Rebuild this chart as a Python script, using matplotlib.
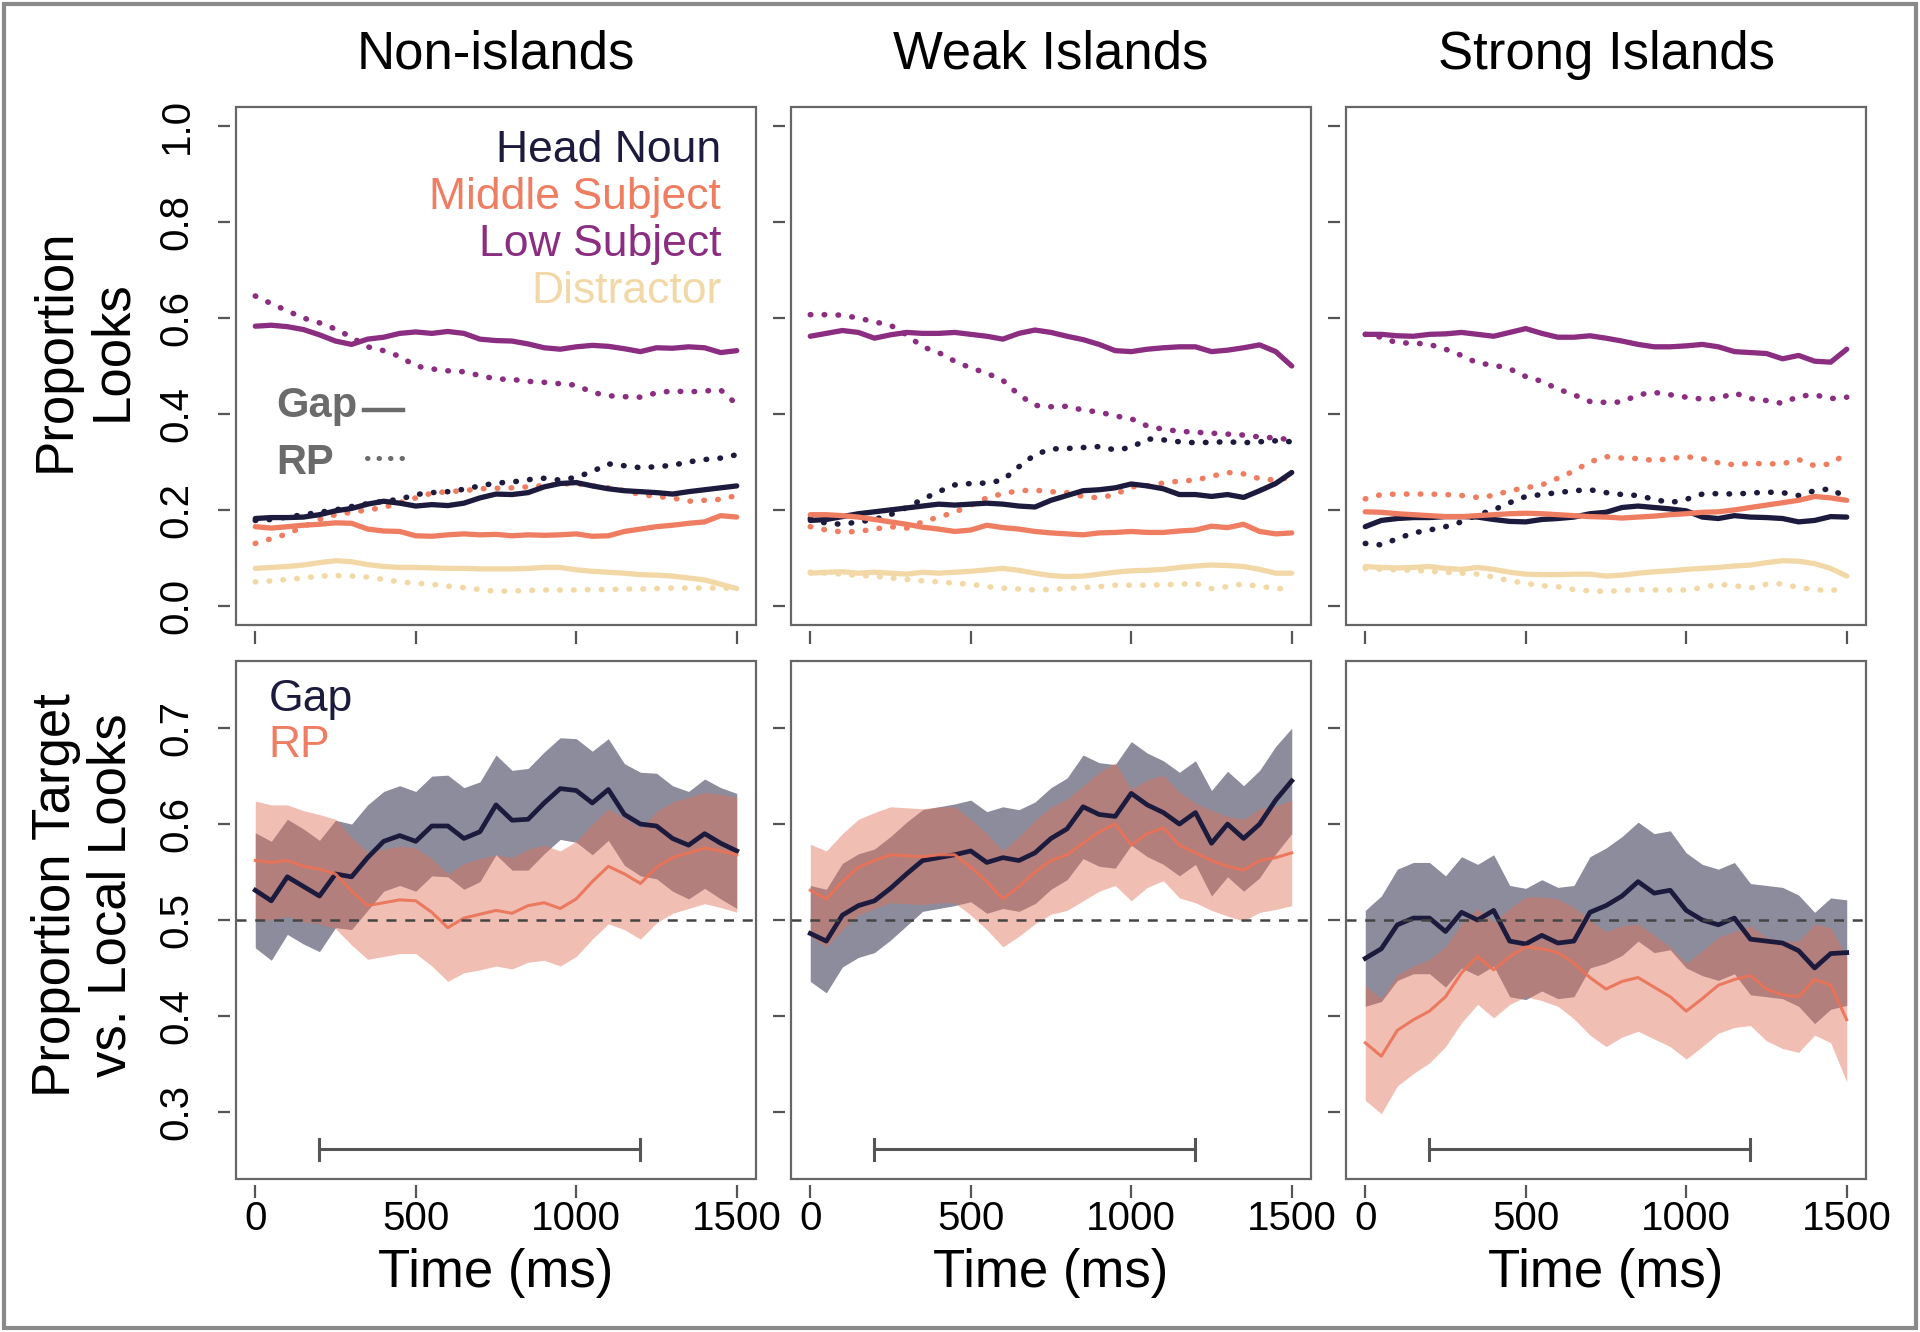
import matplotlib.pyplot as plt
import numpy as np
from matplotlib.patches import Rectangle

plt.rcParams['font.family'] = ['Liberation Sans', 'DejaVu Sans']

time_ms = np.arange(0, 1501, 50)

# top row: proportion of looks (Gap = solid, RP = dotted)
ni_head_gap = [0.182, 0.184, 0.184, 0.185, 0.190, 0.198, 0.203, 0.212, 0.218, 0.214, 0.208, 0.211, 0.209, 0.214, 0.225, 0.233,
               0.232, 0.236, 0.248, 0.255, 0.257, 0.250, 0.244, 0.240, 0.238, 0.236, 0.233, 0.238, 0.242, 0.246, 0.250]
ni_head_rp = [0.178, 0.180, 0.185, 0.190, 0.195, 0.200, 0.207, 0.213, 0.218, 0.222, 0.232, 0.236, 0.238, 0.243, 0.250, 0.256,
              0.258, 0.263, 0.266, 0.262, 0.268, 0.280, 0.296, 0.292, 0.288, 0.290, 0.293, 0.300, 0.305, 0.308, 0.315]
ni_mid_gap = [0.165, 0.162, 0.165, 0.168, 0.170, 0.173, 0.172, 0.160, 0.156, 0.155, 0.146, 0.145, 0.148, 0.150, 0.148, 0.149,
              0.146, 0.148, 0.147, 0.148, 0.150, 0.145, 0.146, 0.155, 0.160, 0.165, 0.168, 0.172, 0.175, 0.188, 0.185]
ni_mid_rp = [0.130, 0.140, 0.150, 0.165, 0.180, 0.190, 0.195, 0.200, 0.205, 0.215, 0.225, 0.235, 0.238, 0.240, 0.244, 0.245,
             0.246, 0.248, 0.251, 0.254, 0.255, 0.250, 0.246, 0.240, 0.232, 0.228, 0.225, 0.218, 0.220, 0.222, 0.230]
ni_low_gap = [0.583, 0.585, 0.582, 0.576, 0.565, 0.552, 0.545, 0.556, 0.560, 0.568, 0.571, 0.568, 0.572, 0.568, 0.556, 0.553,
              0.552, 0.546, 0.538, 0.535, 0.540, 0.543, 0.541, 0.536, 0.530, 0.538, 0.537, 0.540, 0.538, 0.528, 0.532]
ni_low_rp = [0.646, 0.630, 0.615, 0.600, 0.590, 0.577, 0.560, 0.540, 0.532, 0.520, 0.500, 0.494, 0.490, 0.488, 0.480, 0.473,
             0.472, 0.468, 0.466, 0.463, 0.460, 0.445, 0.438, 0.436, 0.435, 0.444, 0.448, 0.446, 0.448, 0.450, 0.420]
ni_dis_gap = [0.078, 0.080, 0.082, 0.085, 0.090, 0.094, 0.092, 0.086, 0.082, 0.080, 0.080, 0.079, 0.078, 0.078, 0.077, 0.077,
              0.077, 0.078, 0.080, 0.080, 0.075, 0.072, 0.070, 0.068, 0.065, 0.064, 0.062, 0.058, 0.054, 0.045, 0.036]
ni_dis_rp = [0.050, 0.052, 0.055, 0.058, 0.062, 0.063, 0.062, 0.060, 0.055, 0.050, 0.047, 0.045, 0.041, 0.038, 0.034, 0.030,
             0.031, 0.032, 0.033, 0.033, 0.033, 0.034, 0.034, 0.035, 0.035, 0.036, 0.037, 0.037, 0.037, 0.037, 0.037]

wi_head_gap = [0.178, 0.180, 0.186, 0.192, 0.196, 0.200, 0.204, 0.208, 0.212, 0.210, 0.212, 0.214, 0.212, 0.208, 0.206, 0.220,
               0.230, 0.240, 0.242, 0.246, 0.254, 0.250, 0.244, 0.232, 0.232, 0.228, 0.232, 0.226, 0.240, 0.255, 0.278]
wi_head_rp = [0.182, 0.172, 0.170, 0.175, 0.180, 0.190, 0.205, 0.222, 0.238, 0.252, 0.255, 0.256, 0.262, 0.290, 0.315, 0.327,
              0.328, 0.330, 0.332, 0.325, 0.330, 0.348, 0.346, 0.342, 0.340, 0.341, 0.342, 0.340, 0.342, 0.344, 0.342]
wi_mid_gap = [0.190, 0.190, 0.188, 0.185, 0.180, 0.175, 0.170, 0.164, 0.160, 0.155, 0.158, 0.168, 0.163, 0.160, 0.155, 0.152,
              0.150, 0.148, 0.152, 0.153, 0.155, 0.153, 0.153, 0.156, 0.158, 0.166, 0.163, 0.170, 0.155, 0.150, 0.152]
wi_mid_rp = [0.165, 0.158, 0.154, 0.155, 0.160, 0.165, 0.162, 0.175, 0.185, 0.195, 0.210, 0.225, 0.234, 0.240, 0.241, 0.238,
             0.236, 0.228, 0.225, 0.232, 0.248, 0.250, 0.256, 0.260, 0.262, 0.270, 0.278, 0.275, 0.265, 0.262, 0.268]
wi_low_gap = [0.562, 0.568, 0.574, 0.570, 0.558, 0.565, 0.570, 0.568, 0.568, 0.570, 0.566, 0.562, 0.556, 0.568, 0.575, 0.570,
              0.562, 0.555, 0.545, 0.532, 0.530, 0.535, 0.538, 0.540, 0.540, 0.530, 0.533, 0.538, 0.544, 0.530, 0.500]
wi_low_rp = [0.607, 0.607, 0.606, 0.600, 0.592, 0.585, 0.565, 0.540, 0.528, 0.510, 0.496, 0.485, 0.470, 0.440, 0.418, 0.415,
             0.416, 0.408, 0.404, 0.396, 0.390, 0.375, 0.368, 0.364, 0.362, 0.360, 0.358, 0.356, 0.352, 0.350, 0.346]
wi_dis_gap = [0.068, 0.070, 0.071, 0.068, 0.070, 0.068, 0.066, 0.070, 0.068, 0.070, 0.072, 0.075, 0.078, 0.074, 0.068, 0.063,
              0.061, 0.062, 0.066, 0.070, 0.073, 0.074, 0.076, 0.080, 0.083, 0.085, 0.084, 0.082, 0.076, 0.068, 0.068]
wi_dis_rp = [0.070, 0.068, 0.066, 0.063, 0.062, 0.058, 0.055, 0.052, 0.050, 0.047, 0.045, 0.040, 0.037, 0.035, 0.033, 0.034,
             0.036, 0.038, 0.040, 0.043, 0.043, 0.043, 0.044, 0.045, 0.047, 0.036, 0.040, 0.046, 0.040, 0.037, 0.033]

si_head_gap = [0.165, 0.178, 0.182, 0.184, 0.184, 0.186, 0.186, 0.185, 0.180, 0.176, 0.175, 0.180, 0.182, 0.185, 0.192, 0.195,
               0.205, 0.208, 0.205, 0.202, 0.198, 0.185, 0.182, 0.188, 0.185, 0.184, 0.182, 0.175, 0.178, 0.186, 0.185]
si_head_rp = [0.130, 0.127, 0.140, 0.152, 0.158, 0.165, 0.175, 0.190, 0.200, 0.215, 0.228, 0.232, 0.236, 0.240, 0.242, 0.236,
              0.232, 0.230, 0.222, 0.215, 0.222, 0.233, 0.234, 0.233, 0.235, 0.237, 0.236, 0.230, 0.240, 0.244, 0.225]
si_mid_gap = [0.196, 0.195, 0.192, 0.190, 0.188, 0.186, 0.186, 0.188, 0.190, 0.192, 0.193, 0.192, 0.190, 0.188, 0.186, 0.185,
              0.183, 0.185, 0.187, 0.190, 0.192, 0.195, 0.196, 0.200, 0.205, 0.210, 0.215, 0.220, 0.228, 0.225, 0.220]
si_mid_rp = [0.223, 0.232, 0.233, 0.233, 0.233, 0.232, 0.230, 0.226, 0.230, 0.240, 0.246, 0.252, 0.266, 0.281, 0.300, 0.311,
             0.308, 0.307, 0.303, 0.307, 0.311, 0.307, 0.298, 0.294, 0.297, 0.296, 0.296, 0.305, 0.292, 0.296, 0.318]
si_low_gap = [0.566, 0.566, 0.563, 0.562, 0.566, 0.567, 0.570, 0.566, 0.562, 0.570, 0.578, 0.568, 0.560, 0.560, 0.563, 0.558,
              0.552, 0.545, 0.540, 0.540, 0.542, 0.545, 0.540, 0.530, 0.528, 0.526, 0.515, 0.522, 0.510, 0.508, 0.535]
si_low_rp = [0.566, 0.560, 0.548, 0.548, 0.545, 0.535, 0.522, 0.506, 0.502, 0.494, 0.478, 0.468, 0.452, 0.440, 0.426, 0.424,
             0.425, 0.440, 0.445, 0.440, 0.435, 0.431, 0.432, 0.444, 0.432, 0.428, 0.422, 0.437, 0.440, 0.432, 0.435]
si_dis_gap = [0.082, 0.080, 0.079, 0.080, 0.082, 0.078, 0.076, 0.080, 0.076, 0.070, 0.066, 0.065, 0.065, 0.066, 0.066, 0.062,
              0.064, 0.068, 0.071, 0.073, 0.076, 0.078, 0.080, 0.083, 0.085, 0.090, 0.094, 0.093, 0.088, 0.078, 0.062]
si_dis_rp = [0.078, 0.076, 0.075, 0.074, 0.072, 0.070, 0.068, 0.066, 0.060, 0.052, 0.047, 0.042, 0.040, 0.034, 0.031, 0.030,
             0.032, 0.034, 0.033, 0.033, 0.033, 0.038, 0.045, 0.042, 0.037, 0.045, 0.046, 0.038, 0.034, 0.031, 0.040]

# bottom row: proportion target vs. local looks, mean and ribbon half-width
ni_gap_mean = [0.531, 0.520, 0.545, 0.535, 0.525, 0.548, 0.545, 0.565, 0.582, 0.588, 0.582, 0.598, 0.598, 0.585, 0.592, 0.620,
               0.604, 0.605, 0.622, 0.637, 0.635, 0.622, 0.636, 0.610, 0.600, 0.598, 0.585, 0.578, 0.590, 0.580, 0.572]
ni_gap_hw = [0.060, 0.062, 0.060, 0.060, 0.058, 0.056, 0.055, 0.055, 0.052, 0.052, 0.052, 0.052, 0.053, 0.053, 0.052, 0.052,
             0.052, 0.053, 0.053, 0.053, 0.054, 0.054, 0.053, 0.053, 0.054, 0.055, 0.055, 0.056, 0.057, 0.058, 0.060]
ni_rp_mean = [0.562, 0.560, 0.562, 0.556, 0.553, 0.548, 0.530, 0.515, 0.518, 0.521, 0.520, 0.508, 0.492, 0.502, 0.506, 0.510,
              0.507, 0.515, 0.518, 0.512, 0.522, 0.540, 0.556, 0.548, 0.538, 0.555, 0.565, 0.570, 0.575, 0.572, 0.568]
ni_rp_hw = [0.062, 0.060, 0.058, 0.058, 0.057, 0.057, 0.056, 0.056, 0.056, 0.056, 0.055, 0.056, 0.056, 0.057, 0.058, 0.058,
            0.058, 0.059, 0.060, 0.060, 0.060, 0.060, 0.060, 0.058, 0.058, 0.058, 0.058, 0.058, 0.058, 0.059, 0.060]

wi_gap_mean = [0.486, 0.478, 0.505, 0.515, 0.520, 0.533, 0.548, 0.562, 0.565, 0.568, 0.572, 0.560, 0.565, 0.562, 0.570, 0.585,
               0.595, 0.618, 0.610, 0.608, 0.632, 0.620, 0.612, 0.600, 0.612, 0.580, 0.600, 0.585, 0.600, 0.625, 0.645]
wi_gap_hw = [0.050, 0.054, 0.054, 0.054, 0.054, 0.054, 0.054, 0.053, 0.053, 0.053, 0.053, 0.053, 0.053, 0.053, 0.053, 0.053,
             0.053, 0.054, 0.054, 0.054, 0.054, 0.054, 0.054, 0.054, 0.054, 0.055, 0.055, 0.055, 0.056, 0.056, 0.055]
wi_rp_mean = [0.531, 0.522, 0.540, 0.555, 0.562, 0.568, 0.567, 0.566, 0.568, 0.568, 0.555, 0.540, 0.522, 0.535, 0.550, 0.562,
              0.568, 0.580, 0.592, 0.600, 0.578, 0.590, 0.596, 0.578, 0.570, 0.562, 0.556, 0.552, 0.562, 0.565, 0.570]
wi_rp_hw = [0.048, 0.050, 0.050, 0.050, 0.050, 0.050, 0.050, 0.050, 0.050, 0.050, 0.050, 0.050, 0.050, 0.052, 0.054, 0.056,
            0.058, 0.060, 0.062, 0.064, 0.058, 0.056, 0.055, 0.055, 0.052, 0.052, 0.052, 0.053, 0.054, 0.054, 0.055]

si_gap_mean = [0.460, 0.470, 0.495, 0.502, 0.502, 0.488, 0.508, 0.500, 0.510, 0.478, 0.475, 0.484, 0.476, 0.478, 0.508, 0.515,
               0.525, 0.540, 0.528, 0.531, 0.510, 0.500, 0.495, 0.502, 0.480, 0.478, 0.476, 0.468, 0.450, 0.465, 0.466]
si_gap_hw = [0.050, 0.055, 0.058, 0.058, 0.058, 0.058, 0.058, 0.058, 0.058, 0.058, 0.058, 0.058, 0.058, 0.058, 0.058, 0.060,
             0.062, 0.062, 0.062, 0.062, 0.060, 0.058, 0.058, 0.058, 0.058, 0.058, 0.058, 0.058, 0.058, 0.058, 0.055]
si_rp_mean = [0.372, 0.358, 0.385, 0.396, 0.405, 0.420, 0.445, 0.462, 0.448, 0.462, 0.472, 0.470, 0.466, 0.455, 0.440, 0.428,
              0.436, 0.440, 0.430, 0.420, 0.405, 0.418, 0.432, 0.438, 0.442, 0.428, 0.422, 0.420, 0.438, 0.432, 0.396]
si_rp_hw = [0.060, 0.060, 0.058, 0.056, 0.054, 0.052, 0.052, 0.050, 0.050, 0.050, 0.052, 0.054, 0.056, 0.058, 0.060, 0.060,
            0.058, 0.056, 0.054, 0.052, 0.050, 0.050, 0.050, 0.050, 0.052, 0.054, 0.056, 0.058, 0.058, 0.060, 0.065]

conditions = ['Non-islands', 'Weak Islands', 'Strong Islands']
aoi_names = ['Head Noun', 'Middle Subject', 'Low Subject', 'Distractor']
aoi_colors = ['#1c1a3d', '#ee7d62', '#8b2d80', '#f2d8a6']
navy = '#1c1a3d'
salmon = '#e07058'
window = [200, 1200]

top_data = [
    [(ni_head_gap, ni_head_rp), (ni_mid_gap, ni_mid_rp), (ni_low_gap, ni_low_rp), (ni_dis_gap, ni_dis_rp)],
    [(wi_head_gap, wi_head_rp), (wi_mid_gap, wi_mid_rp), (wi_low_gap, wi_low_rp), (wi_dis_gap, wi_dis_rp)],
    [(si_head_gap, si_head_rp), (si_mid_gap, si_mid_rp), (si_low_gap, si_low_rp), (si_dis_gap, si_dis_rp)],
]
bottom_data = [
    (ni_gap_mean, ni_gap_hw, ni_rp_mean, ni_rp_hw),
    (wi_gap_mean, wi_gap_hw, wi_rp_mean, wi_rp_hw),
    (si_gap_mean, si_gap_hw, si_rp_mean, si_rp_hw),
]


def style_axes(ax, yticks, ylabels, show_xlabels):
    for s in ['top', 'right']:
        ax.spines[s].set_visible(False)
    for s in ['left', 'bottom']:
        ax.spines[s].set_position(('outward', 4))
        ax.spines[s].set_visible(False)
    ax.add_patch(Rectangle((0, 0), 1, 1, transform=ax.transAxes, fill=False,
                           ec='#666666', lw=1.6, clip_on=False, zorder=5))
    ax.set_xlim(-60, 1560)
    ax.set_xticks([0, 500, 1000, 1500])
    ax.set_yticks(yticks)
    ax.tick_params(direction='out', length=9, width=1.6, color='#555555', labelsize=29)
    ax.tick_params(axis='x', pad=2)
    ax.tick_params(axis='y', pad=16, labelrotation=90)
    if show_xlabels:
        ax.set_xticklabels(['0', '500', '1000', '1500'])
    else:
        ax.set_xticklabels([])
    if ylabels:
        ax.set_yticklabels(['%.1f' % v for v in yticks])
        plt.setp(ax.get_yticklabels(), va='center')
    else:
        ax.set_yticklabels([])


fig = plt.figure(figsize=(19.2, 13.32), dpi=100)
lefts = [236 / 1920, 791 / 1920, 1346 / 1920]
w = 520 / 1920
h = 518 / 1332
top_bottom = 1 - 625 / 1332
bot_bottom = 1 - 1179 / 1332

for i, cond in enumerate(conditions):
    # ---- top row ----
    ax = fig.add_axes([lefts[i], top_bottom, w, h])
    for (gap, rp), col in zip(top_data[i], aoi_colors):
        ax.plot(time_ms, rp, color=col, lw=4, dashes=(0.1, 2.4), dash_capstyle='round')
    for (gap, rp), col in zip(top_data[i], aoi_colors):
        ax.plot(time_ms, gap, color=col, lw=3.8, solid_capstyle='round')
    ax.set_ylim(-0.04, 1.04)
    style_axes(ax, [0.0, 0.2, 0.4, 0.6, 0.8, 1.0], i == 0, False)
    ax.text(0.5, 1.0734, cond, transform=ax.transAxes, ha='center', va='baseline', fontsize=38)

    if i == 0:
        for k, (name, col) in enumerate(zip(aoi_names, aoi_colors)):
            ax.text(0.933, 0.894 - k * 0.091, name, transform=ax.transAxes, ha='right',
                    va='baseline', fontsize=32, color=col)
        ax.text(0.077, 0.4015, 'Gap', transform=ax.transAxes, ha='left', va='baseline',
                fontsize=30, fontweight='bold', color='#6b6b6b')
        ax.text(0.077, 0.2915, 'RP', transform=ax.transAxes, ha='left', va='baseline',
                fontsize=30, fontweight='bold', color='#6b6b6b')
        ax.plot([0.246, 0.321], [0.415, 0.415], transform=ax.transAxes, color='#6b6b6b', lw=3.2)
        ax.plot([0.252, 0.321], [0.322, 0.322], transform=ax.transAxes, color='#6b6b6b', lw=3.6,
                dashes=(0.1, 2.2), dash_capstyle='round')

    # ---- bottom row ----
    ax = fig.add_axes([lefts[i], bot_bottom, w, h])
    gm, ghw, rm, rhw = [np.array(a) for a in bottom_data[i]]
    ax.fill_between(time_ms, gm - ghw, gm + ghw, color=navy, alpha=0.5, lw=0)
    ax.plot(time_ms, gm, color=navy, lw=3.4)
    ax.fill_between(time_ms, rm - rhw, rm + rhw, color=salmon, alpha=0.45, lw=0)
    ax.plot(time_ms, rm, color='#ea7256', lw=2.2, alpha=0.9)
    ax.axhline(0.5, color='#444444', lw=1.8, dashes=(4, 3.5))
    ax.plot(window, [0.261, 0.261], color='#555555', lw=2.2)
    for xb in window:
        ax.plot([xb, xb], [0.250, 0.272], color='#555555', lw=2.2)
    ax.set_ylim(0.23, 0.77)
    style_axes(ax, [0.3, 0.4, 0.5, 0.6, 0.7], i == 0, True)
    ax.text(0.5, -0.1815, 'Time (ms)', transform=ax.transAxes, ha='center', va='center', fontsize=38)
    if i == 0:
        ax.text(0.063, 0.9035, 'Gap', transform=ax.transAxes, ha='left', va='baseline',
                fontsize=32, color=navy)
        ax.text(0.063, 0.8147, 'RP', transform=ax.transAxes, ha='left', va='baseline',
                fontsize=32, color='#ee7d62')

fig.text(0.0437, 0.737, 'Proportion\nLooks', rotation=90, ha='center', va='center',
         fontsize=38, linespacing=1.15, multialignment='center')
fig.text(0.0437, 0.328, 'Proportion Target\nvs. Local Looks', rotation=90, ha='center', va='center',
         fontsize=38, linespacing=1.15, multialignment='center')

fig.patches.append(Rectangle((0.002, 0.003), 0.996, 0.994, transform=fig.transFigure,
                             fill=False, ec='#8a8a8a', lw=3))

fig.savefig('out.png', dpi=100, facecolor='white')
